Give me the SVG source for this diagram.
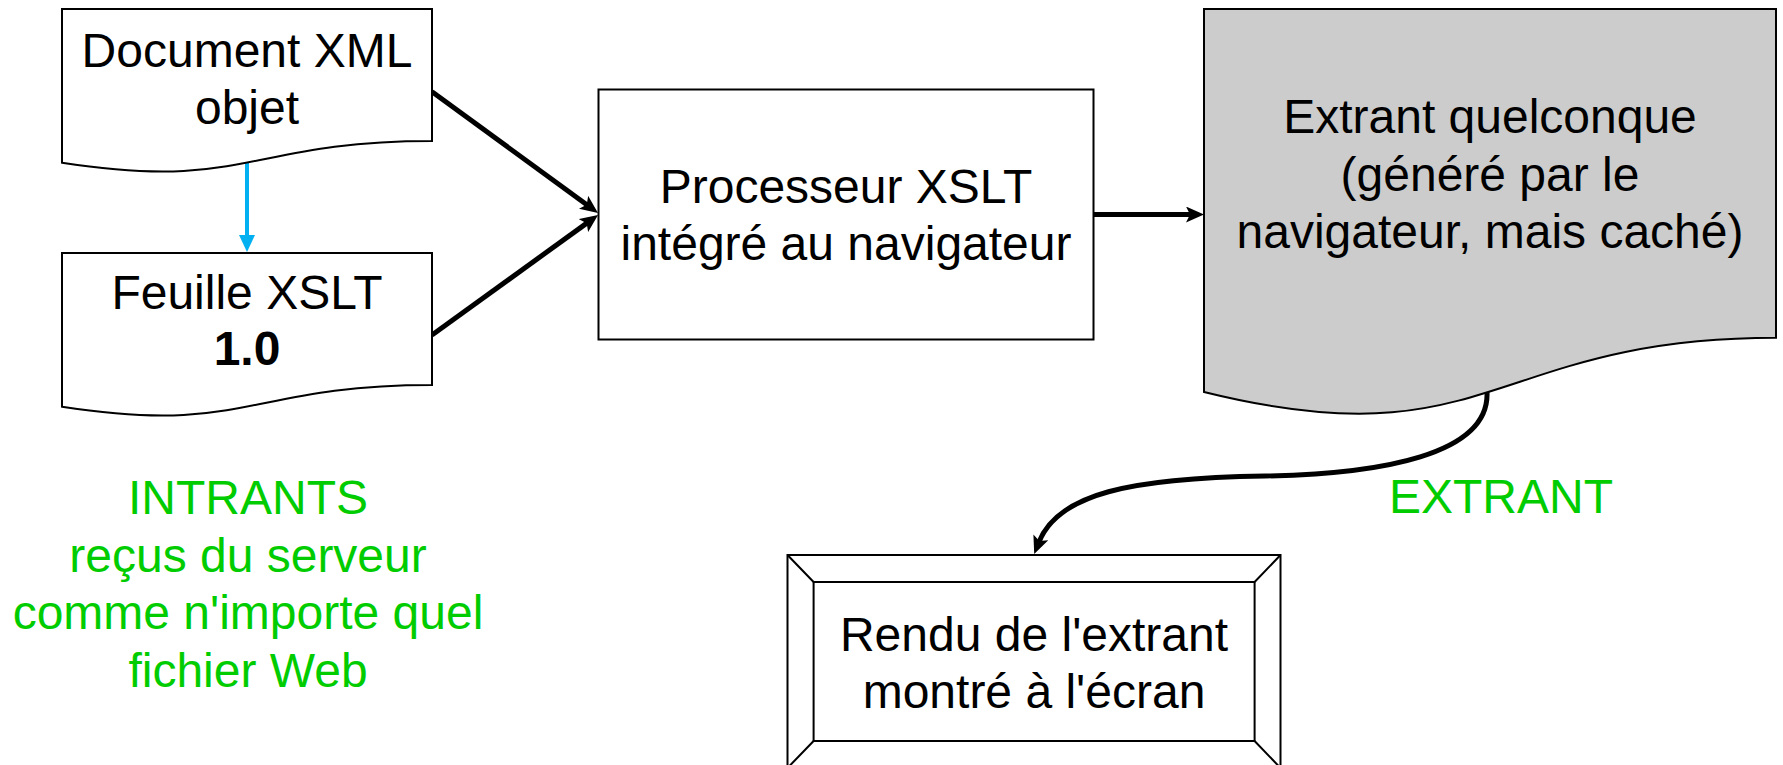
<svg xmlns="http://www.w3.org/2000/svg" width="1783" height="765" viewBox="0 0 1783 765">
<defs>
<style>
.box{fill:#fff;stroke:#000;stroke-width:2}
.gray{fill:#ccc;stroke:#000;stroke-width:2}
.t{font-family:"Liberation Sans",Arial,sans-serif;font-size:48px;fill:#000;text-anchor:middle}
.g{fill:#00CC00}
.b{font-weight:bold}
.con{fill:none;stroke:#000;stroke-width:5}
.blue{fill:none;stroke:#00B0F0;stroke-width:4}
</style>
<marker id="ah" markerUnits="userSpaceOnUse" markerWidth="20" markerHeight="16" refX="5" refY="8" orient="auto">
<path d="M0,0 L18,8 L0,16 L4,8 Z" fill="#000"/>
</marker>
<marker id="ahb" markerUnits="userSpaceOnUse" markerWidth="18" markerHeight="16" refX="2" refY="8" orient="auto">
<path d="M0,0 L17,8 L0,16 Z" fill="#00B0F0"/>
</marker>
</defs>
<rect width="1783" height="765" fill="#fff"/>

<g id="connectors">
<line class="blue" x1="247" y1="163" x2="247" y2="237" marker-end="url(#ahb)"/>
<line class="con" x1="432" y1="91.7" x2="587.5" y2="205.3" marker-end="url(#ah)"/>
<line class="con" x1="432" y1="335" x2="587.5" y2="222.6" marker-end="url(#ah)"/>
<line class="con" x1="1094" y1="214.5" x2="1191" y2="214.5" marker-end="url(#ah)"/>
<path class="con" d="M1487,392 C1490,455 1380,474 1265,476 C1130,478 1058,494 1039,542" marker-end="url(#ah)"/>
</g>

<g id="doc-xml">
<path class="box" d="M62,9 H432 V141 C247,141 247,191.3 62,162.7 Z"/>
<text class="t" x="247" y="66.7">Document XML</text>
<text class="t" x="247" y="124">objet</text>
</g>

<g id="feuille-xslt">
<path class="box" d="M62,253 H432 V385 C247,385 247,435.3 62,406.7 Z"/>
<text class="t" x="247" y="309.3">Feuille XSLT</text>
<text class="t b" x="247" y="365">1.0</text>
</g>

<g id="processeur">
<rect class="box" x="598.5" y="89.5" width="495" height="250"/>
<text class="t" x="846" y="202.7">Processeur XSLT</text>
<text class="t" x="846" y="260">intégré au navigateur</text>
</g>

<g id="extrant">
<path class="gray" d="M1204,9 H1776 V337.8 C1490,337.8 1490,463 1204,392 Z"/>
<text class="t" x="1490" y="133">Extrant quelconque</text>
<text class="t" x="1490" y="190.6">(généré par le</text>
<text class="t" x="1490" y="248.2">navigateur, mais caché)</text>
</g>

<g id="rendu">
<rect class="box" x="787.5" y="555" width="493" height="213"/>
<rect class="box" x="813.6" y="582" width="441" height="159"/>
<path d="M787.5,555 L813.6,582 M1280.5,555 L1254.6,582 M787.5,768 L813.6,741 M1280.5,768 L1254.6,741" stroke="#000" stroke-width="2" fill="none"/>
<text class="t" x="1034" y="651">Rendu de l'extrant</text>
<text class="t" x="1034" y="708">montré à l'écran</text>
</g>

<g id="label-intrants">
<text class="t g" x="248" y="514">INTRANTS</text>
<text class="t g" x="248" y="571.6">reçus du serveur</text>
<text class="t g" x="248" y="629.2">comme n'importe quel</text>
<text class="t g" x="248" y="686.8">fichier Web</text>
</g>

<g id="label-extrant">
<text class="t g" x="1501" y="513">EXTRANT</text>
</g>
</svg>
